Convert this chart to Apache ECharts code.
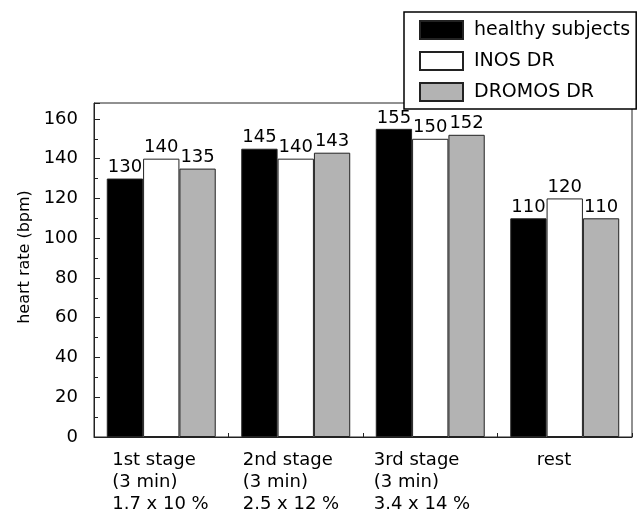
<!DOCTYPE html>
<html><head><meta charset="utf-8">
<script src="https://cdn.jsdelivr.net/npm/echarts@6/dist/echarts.min.js"></script>
<style>html,body{margin:0;padding:0;background:#fff}#c{width:638px;height:520px}</style>
</head><body><div id="c"></div>
<script>
const categories = ['1st stage\n(3 min)\n1.7 x 10 %', '2nd stage\n(3 min)\n2.5 x 12 %', '3rd stage\n(3 min)\n3.4 x 14 %', 'rest'];
const healthy = [130, 145, 155, 110];
const inos = [140, 140, 150, 120];
const dromos = [135, 143, 152, 110];
const seriesNames = ['healthy subjects', 'INOS DR', 'DROMOS DR'];
const yTicks = [0, 20, 40, 60, 80, 100, 120, 140, 160];

const FONT = 'DejaVu Sans';
const chart = echarts.init(document.getElementById('c'));
const labelKeys = ['s1', 's2', 's3', 'r'];
const barLabel = {show: true, position: 'top', distance: 2, color: '#000', fontFamily: FONT, fontSize: 18};
function mk(name, data, color) {
  return {
    name, type: 'bar', data, barGap: '0%', barCategoryGap: '19%',
    itemStyle: {color, borderColor: '#222', borderWidth: 1},
    label: barLabel
  };
}
const richBase = {align: 'left', fontFamily: FONT, fontSize: 18, lineHeight: 22, color: '#000'};
chart.setOption({
  animation: false,
  textStyle: {fontFamily: FONT},
  grid: {left: 94, right: 6, top: 103, bottom: 83, show: true, borderColor: '#222', borderWidth: 1, backgroundColor: 'transparent'},
  legend: {
    orient: 'vertical', left: 404, top: 12, width: 231, height: 91,
    backgroundColor: '#fff', borderColor: '#000', borderWidth: 1.5,
    padding: [8, 6, 7, 15], itemWidth: 43, itemHeight: 18, itemGap: 11,
    icon: 'rect',
    textStyle: {fontFamily: FONT, fontSize: 19, color: '#000', padding: [0, 0, 0, 6]},
    data: seriesNames
  },
  xAxis: {
    type: 'category', data: categories,
    axisLine: {lineStyle: {color: '#222', width: 1}},
    axisTick: {show: true, inside: true, length: 4, lineStyle: {color: '#222'}},
    axisLabel: {
      interval: 0, hideOverlap: false,
      margin: 12, color: '#000', fontFamily: FONT, fontSize: 18, lineHeight: 22,
      formatter: (v, i) => v.split('\n').map(l => '{' + labelKeys[i] + '|' + l + '}').join('\n'),
      rich: {
        s1: Object.assign({width: 98}, richBase),
        s2: Object.assign({width: 106}, richBase),
        s3: Object.assign({width: 113}, richBase),
        r: Object.assign({width: 56}, richBase)
      }
    }
  },
  yAxis: {
    type: 'value', min: 0, max: 168, interval: 20,
    name: 'heart rate (bpm)', nameLocation: 'middle', nameGap: 58,
    nameTextStyle: {fontFamily: FONT, fontSize: 16, color: '#000', padding: [0, 0, 0, 26]},
    axisLine: {show: true, lineStyle: {color: '#222', width: 1}},
    axisTick: {show: true, inside: true, length: 6, lineStyle: {color: '#222'}},
    minorTick: {show: true, splitNumber: 2, length: 4, lineStyle: {color: '#222'}},
    splitLine: {show: false},
    axisLabel: {margin: 16, color: '#000', fontFamily: FONT, fontSize: 18, showMaxLabel: false,
      formatter: v => yTicks.includes(v) ? String(v) : ''}
  },
  series: [mk(seriesNames[0], healthy, '#000'), mk(seriesNames[1], inos, '#fff'), mk(seriesNames[2], dromos, '#b3b3b3')]
});
</script></body></html>
